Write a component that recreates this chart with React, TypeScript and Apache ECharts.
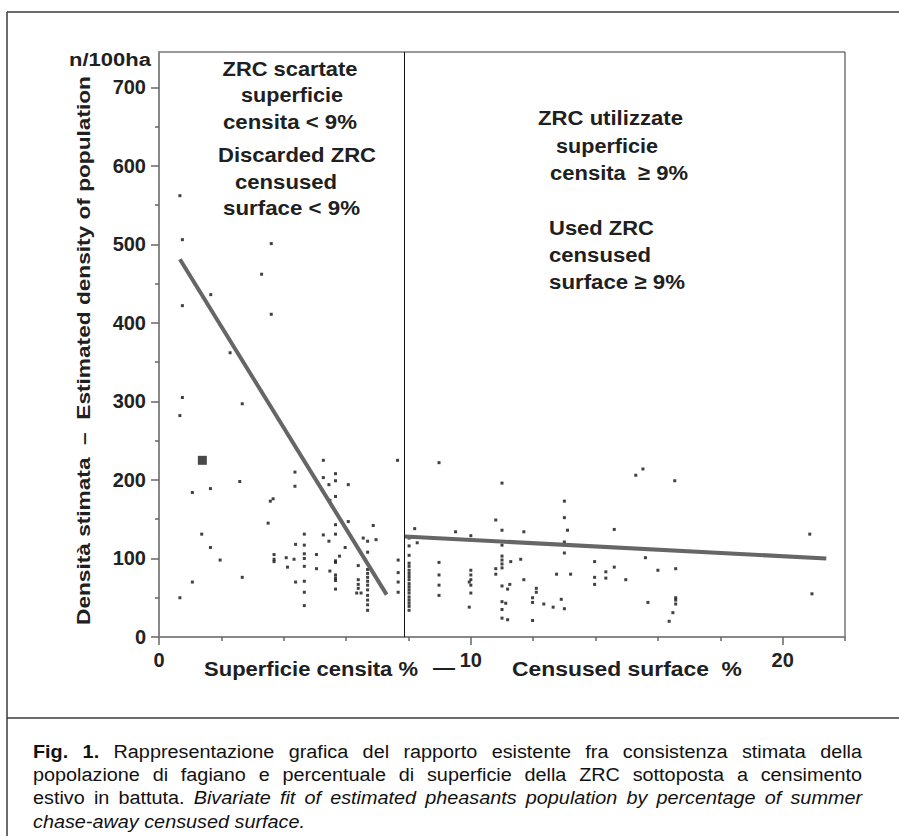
import React, { useEffect, useRef } from 'react';
import * as echarts from 'echarts';

// ---------------- data ----------------
const yMajorTicks = [0, 100, 200, 300, 400, 500, 600, 700];
const yMinorTicks = [50, 150, 250, 350, 450, 550, 650];
const xMajorTicks = [0, 10, 20];
const xMinorTicks = [2, 4, 6, 8, 12, 14, 16, 18, 22];

// ZRC with censused surface < 9 %
const discardedPoints = [
  [0.67, 562], [0.75, 506], [3.6, 501], [3.29, 462], [1.66, 436], [0.75, 422], [3.6, 411], [2.28, 362],
  [0.75, 305], [2.67, 297], [0.67, 282],
  [2.59, 198], [1.65, 189], [1.07, 184], [3.57, 173], [3.66, 176], [3.5, 145], [1.37, 131], [1.65, 114], [1.96, 98],
  [3.69, 105], [3.69, 99], [3.69, 96], [4.08, 101], [4.12, 89],
  [4.36, 210], [4.36, 192], [4.38, 118], [4.33, 99], [4.38, 70], [1.07, 70], [2.67, 76], [0.67, 50],
  [5.27, 225], [5.66, 208], [5.27, 203], [5.66, 199], [5.45, 194], [6.07, 194], [5.66, 179], [5.48, 174],
  [5.66, 143], [6.07, 147], [6.87, 142],
  [4.66, 131], [5.27, 130], [5.66, 131], [5.45, 122], [6.55, 126], [6.69, 122], [6.96, 124],
  [4.66, 117], [5.97, 114], [6.69, 108], [4.66, 106], [5.05, 105], [5.79, 103], [4.66, 100], [5.66, 95],
  [5.66, 97], [6.39, 91], [4.66, 90], [5.05, 87], [5.48, 84], [6.69, 86],
  [5.66, 79], [5.66, 75], [5.66, 72], [5.66, 61],
  [6.69, 81], [6.69, 76], [6.69, 71], [6.69, 66], [6.69, 60], [6.69, 53], [6.69, 47], [6.69, 41], [6.69, 34],
  [6.39, 73], [6.39, 67], [6.39, 62], [6.34, 56], [6.48, 56],
  [4.66, 71], [4.66, 57], [4.66, 40],
  [7.65, 225], [7.67, 98], [7.67, 82], [7.67, 70], [7.67, 57],
];

// ZRC with censused surface >= 9 %
const usedPoints = [
  [8.02, 126], [8.02, 116], [8.02, 104], [8.02, 94], [8.02, 90], [8.02, 85], [8.02, 81], [8.02, 77],
  [8.02, 73], [8.02, 68], [8.02, 64], [8.02, 60], [8.02, 56], [8.02, 51], [8.02, 47], [8.02, 43],
  [8.02, 39], [8.02, 34],
  [8.28, 120], [8.2, 138], [8.98, 222], [8.98, 95], [8.98, 79], [8.98, 66], [8.98, 53], [9.51, 134], [10, 129],
  [10, 85], [10, 79], [10, 73], [9.95, 70], [10, 66], [10, 56], [9.95, 38],
  [10.8, 149], [11, 196], [11, 136], [11, 117], [11, 103], [11, 98], [11, 93], [11, 88], [10.8, 87], [10.8, 80],
  [11.28, 96], [11.6, 99], [11.7, 73], [11, 65], [11.18, 61], [11.25, 67], [11, 45], [11.12, 43], [11, 35],
  [11, 24], [11.18, 22], [11.7, 134],
  [13, 173], [13, 152], [13.1, 136], [13, 121], [13, 107], [14.6, 137], [15.29, 206], [15.52, 214],
  [13.97, 96], [12.75, 80], [13.2, 80], [14.33, 83], [14.6, 89], [15.6, 101], [13.97, 76], [14.33, 75],
  [13.97, 67], [14.97, 73], [12.1, 62], [12.1, 57], [11.98, 50], [11.98, 44], [12.34, 42], [12.64, 38],
  [12.9, 48], [13, 36], [11.98, 21], [15.68, 44],
  [16.54, 199], [20.87, 131], [16, 85], [16.57, 87], [16.57, 50], [16.57, 47], [16.57, 42], [16.48, 31],
  [16.36, 20], [20.94, 55],
];

const markedPoint = [[1.39, 225]];
const fitDiscarded = [[0.67, 481], [7.3, 54]];
const fitUsed = [[7.88, 128], [21.4, 100]];
const dividerX = 7.86;

const annotationsLeft = ['ZRC scartate', 'superficie', 'censita < 9%', 'Discarded ZRC', 'censused', 'surface < 9%'];
const annotationsRight = ['ZRC utilizzate', 'superficie', 'censita  \u2265 9%', 'Used ZRC', 'censused', 'surface \u2265 9%'];
const yTitle = 'Densit\u00e0 stimata  \u2013  Estimated density of population';
const yUnit = 'n/100ha';
const xTitleIt = 'Superficie censita %';
const xTitleEn = 'Censused surface  %';

const captionLines = [
  [{ t: 'Fig. 1.', w: 'bold', s: 'normal' }, { t: 'Rappresentazione grafica del rapporto esistente fra consistenza stimata della', w: 'normal', s: 'normal' }],
  [{ t: 'popolazione di fagiano e percentuale di superficie della ZRC sottoposta a censimento', w: 'normal', s: 'normal' }],
  [{ t: 'estivo in battuta.', w: 'normal', s: 'normal' }, { t: 'Bivariate fit of estimated pheasants population by percentage of summer', w: 'normal', s: 'italic' }],
  [{ t: 'chase-away censused surface.', w: 'normal', s: 'italic' }],
];

// ---------------- layout ----------------
const FONT = '"Liberation Sans", Arial, Helvetica, sans-serif';
const TEXT = '#202020';
const leftLayout = [
  { cx: 290, cy: 69, w: 135 }, { cx: 292, cy: 95.5, w: 102 }, { cx: 290, cy: 122, w: 134 },
  { cx: 297, cy: 155, w: 158 }, { cx: 286, cy: 181.5, w: 102 }, { cx: 291.5, cy: 208, w: 137 },
];
const rightLayout = [
  { cx: 610.5, cy: 118, w: 145 }, { cx: 607, cy: 146, w: 102 }, { cx: 619, cy: 173, w: 138 },
  { cx: 601.5, cy: 228, w: 105 }, { cx: 600, cy: 255, w: 102 }, { cx: 617, cy: 282, w: 136 },
];

let measureCtx: CanvasRenderingContext2D | null = null;
function measure(text: string, size: number, weight = 'normal', style = 'normal') {
  if (!measureCtx) measureCtx = document.createElement('canvas').getContext('2d');
  measureCtx!.font = `${style} ${weight} ${size}px ${FONT}`;
  return measureCtx!.measureText(text).width || 1;
}

function fitText(text: string, cx: number, cy: number, size: number, width: number, extra: any = {}) {
  const w = measure(text, size, 'bold');
  return {
    type: 'text',
    x: cx,
    y: cy,
    scaleX: width / w,
    silent: true,
    ...extra,
    style: {
      text, fontSize: size, fontFamily: FONT, fontWeight: 'bold', fill: TEXT,
      align: 'center', verticalAlign: 'middle',
    },
  };
}

function buildCaption() {
  const left = 33;
  const right = 862;
  const size = 18;
  const y0 = 751.5;
  const dy = 23.3;
  const lastWidthTarget = 272;
  const last = captionLines[captionLines.length - 1][0];
  const sx = lastWidthTarget / measure(last.t, size, last.w, last.s);
  const els: any[] = [];
  captionLines.forEach((segs, li) => {
    const words: { t: string; w: string; s: string; width: number }[] = [];
    segs.forEach((seg) => {
      seg.t.split(' ').forEach((t) => {
        if (t) words.push({ t, w: seg.w, s: seg.s, width: measure(t, size, seg.w, seg.s) * sx });
      });
    });
    const total = words.reduce((a, b) => a + b.width, 0);
    const justify = li < captionLines.length - 1;
    const gap = justify && words.length > 1 ? (right - left - total) / (words.length - 1) : measure(' ', size) * sx;
    let x = left;
    words.forEach((wd) => {
      els.push({
        type: 'text',
        x,
        y: y0 + li * dy,
        scaleX: sx,
        silent: true,
        style: {
          text: wd.t, fontSize: size, fontFamily: FONT, fontWeight: wd.w, fontStyle: wd.s,
          fill: '#111', align: 'left', verticalAlign: 'middle',
        },
      });
      x += wd.width + gap;
    });
  });
  return els;
}

export default function App() {
  const ref = useRef<HTMLDivElement>(null);
  useEffect(() => {
    if (!ref.current) return;
    const chart = echarts.init(ref.current, undefined, { renderer: 'svg' });

    const lineStyle = { stroke: '#3a3a3a', lineWidth: 1.5 };
    const graphic: any[] = [
      { type: 'line', silent: true, shape: { x1: 7, y1: 12, x2: 899, y2: 12 }, style: lineStyle },
      { type: 'line', silent: true, shape: { x1: 7, y1: 12, x2: 7, y2: 836 }, style: lineStyle },
      { type: 'line', silent: true, shape: { x1: 7, y1: 718, x2: 899, y2: 718 }, style: lineStyle },
      fitText(yUnit, 110, 59, 19, 82),
      fitText(yTitle, 83.5, 350.5, 19, 549, { rotation: Math.PI / 2 }),
      fitText(xTitleIt, 311, 669, 21, 214),
      fitText('\u2014', 444, 667, 21, 22),
      fitText(xTitleEn, 627, 669, 21, 230),
      ...annotationsLeft.map((t, i) => fitText(t, leftLayout[i].cx, leftLayout[i].cy, 21, leftLayout[i].w)),
      ...annotationsRight.map((t, i) => fitText(t, rightLayout[i].cx, rightLayout[i].cy, 21, rightLayout[i].w)),
      ...buildCaption(),
    ];

    const axisLabelStyle = { fontSize: 20, color: '#222', fontFamily: FONT, fontWeight: 'bold' };
    chart.setOption({
      animation: false,
      backgroundColor: '#ffffff',
      grid: {
        left: 159, top: 52, width: 686, height: 585,
        show: true, borderColor: '#333', borderWidth: 1, backgroundColor: 'transparent',
        outerBoundsMode: 'none',
      },
      xAxis: [
        {
          type: 'value', min: 0, max: 22, position: 'bottom',
          axisLine: { show: true, onZero: false, lineStyle: { color: '#888', width: 2 } },
          axisTick: { show: true, customValues: xMajorTicks, length: 8, lineStyle: { color: '#666', width: 1.5 } },
          axisLabel: { show: true, customValues: xMajorTicks, margin: 13, ...axisLabelStyle },
          splitLine: { show: false },
        },
        {
          type: 'value', min: 0, max: 22, position: 'bottom',
          axisLine: { show: false, onZero: false },
          axisTick: { show: true, customValues: xMinorTicks, length: 4, lineStyle: { color: '#666', width: 1.5 } },
          axisLabel: { show: false },
          splitLine: { show: false },
        },
      ],
      yAxis: [
        {
          type: 'value', min: 0, max: 745, position: 'left',
          axisLine: { show: true, onZero: false, lineStyle: { color: '#888', width: 2 } },
          axisTick: { show: true, customValues: yMajorTicks, length: 8, lineStyle: { color: '#666', width: 1.5 } },
          axisLabel: { show: true, customValues: yMajorTicks, margin: 13, ...axisLabelStyle },
          splitLine: { show: false },
        },
        {
          type: 'value', min: 0, max: 745, position: 'left',
          axisLine: { show: false, onZero: false },
          axisTick: { show: true, customValues: yMinorTicks, length: 4, lineStyle: { color: '#666', width: 1.5 } },
          axisLabel: { show: false },
          splitLine: { show: false },
        },
      ],
      series: [
        {
          name: 'Discarded ZRC', type: 'scatter', data: discardedPoints, symbol: 'rect', symbolSize: 3,
          itemStyle: { color: '#111' }, silent: true,
          markLine: {
            silent: true, symbol: ['none', 'none'], label: { show: false },
            lineStyle: { color: '#111', width: 1, type: 'solid' },
            data: [{ xAxis: dividerX }],
          },
        },
        {
          name: 'Used ZRC', type: 'scatter', data: usedPoints, symbol: 'rect', symbolSize: 3,
          itemStyle: { color: '#111' }, silent: true,
        },
        {
          name: 'Marked', type: 'scatter', data: markedPoint, symbol: 'rect', symbolSize: 9,
          itemStyle: { color: '#1a1a1a' }, silent: true,
        },
        {
          name: 'Fit < 9%', type: 'line', data: fitDiscarded, showSymbol: false, silent: true,
          lineStyle: { color: '#666', width: 4 },
        },
        {
          name: 'Fit >= 9%', type: 'line', data: fitUsed, showSymbol: false, silent: true,
          lineStyle: { color: '#666', width: 4 },
        },
      ],
      graphic,
    });
    return () => chart.dispose();
  }, []);

  return (
    <div
      ref={ref}
      style={{ position: 'absolute', left: 0, top: 0, width: 899, height: 836, background: '#fff' }}
    />
  );
}
